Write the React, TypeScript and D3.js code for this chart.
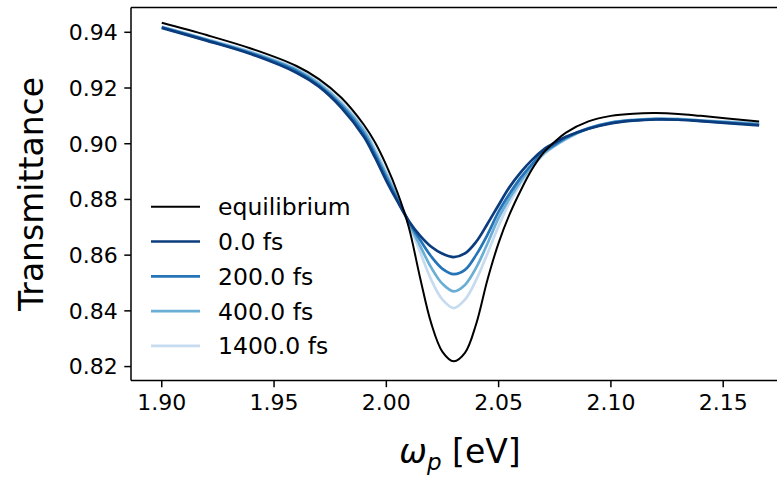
import React from "react";
import * as d3 from "d3";

// Photon energy grid (eV)
const energies = [
  1.90, 1.92, 1.94, 1.96, 1.97, 1.98, 1.99, 1.995, 2.00, 2.005, 2.01, 2.015, 2.02, 2.025,
  2.03, 2.035, 2.04, 2.045, 2.05, 2.055, 2.06, 2.065, 2.07, 2.075, 2.08, 2.09, 2.10,
  2.11, 2.12, 2.13, 2.14, 2.166,
];

const equilibrium = [
  0.9434, 0.9390, 0.9341, 0.9279, 0.9232, 0.9165, 0.9068, 0.9004, 0.8922, 0.8824, 0.8700,
  0.8520, 0.8355, 0.8253, 0.8219, 0.8249, 0.8353, 0.8511, 0.8644, 0.8749, 0.8835, 0.8910,
  0.8968, 0.9007, 0.9040, 0.9080, 0.9100, 0.9108, 0.9110, 0.9107, 0.9100, 0.9080,
];

const t0fs = [
  0.9416, 0.9370, 0.9321, 0.9255, 0.9205, 0.9129, 0.9025, 0.8950, 0.8867, 0.8792, 0.8723,
  0.8670, 0.8630, 0.8605, 0.8593, 0.8606, 0.8648, 0.8712, 0.8780, 0.8846, 0.8899, 0.8943,
  0.8979, 0.9004, 0.9025, 0.9054, 0.9073, 0.9083, 0.9087, 0.9086, 0.9081, 0.9066,
];

const t200fs = [
  0.9418, 0.9372, 0.9324, 0.9261, 0.9210, 0.9137, 0.9036, 0.8961, 0.8878, 0.8799, 0.8720,
  0.8655, 0.8595, 0.8551, 0.8532, 0.8547, 0.8601, 0.8673, 0.8756, 0.8822, 0.8880, 0.8928,
  0.8971, 0.8996, 0.9022, 0.9055, 0.9075, 0.9084, 0.9088, 0.9087, 0.9082, 0.9068,
];

const t400fs = [
  0.9419, 0.9374, 0.9327, 0.9266, 0.9216, 0.9144, 0.9047, 0.8971, 0.8889, 0.8806, 0.8716,
  0.8634, 0.8555, 0.8497, 0.8470, 0.8493, 0.8555, 0.8641, 0.8734, 0.8806, 0.8867, 0.8921,
  0.8964, 0.8993, 0.9018, 0.9055, 0.9076, 0.9085, 0.9089, 0.9088, 0.9083, 0.9071,
];

const t1400fs = [
  0.9421, 0.9376, 0.9330, 0.9270, 0.9221, 0.9151, 0.9054, 0.8982, 0.8899, 0.8813, 0.8713,
  0.8612, 0.8511, 0.8440, 0.8410, 0.8440, 0.8511, 0.8605, 0.8705, 0.8790, 0.8858, 0.8914,
  0.8961, 0.8991, 0.9016, 0.9056, 0.9077, 0.9086, 0.9090, 0.9089, 0.9084, 0.9074,
];

const seriesLabels = ["equilibrium", "0.0 fs", "200.0 fs", "400.0 fs", "1400.0 fs"];
const seriesValues = [equilibrium, t0fs, t200fs, t400fs, t1400fs];
const seriesColors = ["#000000", "#0b3c7d", "#2474b7", "#6aaed6", "#c6dbef"];
const seriesWidths = [2, 2.7, 2.7, 2.7, 2.7];

const xTicks = [1.9, 1.95, 2.0, 2.05, 2.1, 2.15];
const yTicks = [0.82, 0.84, 0.86, 0.88, 0.9, 0.92, 0.94];

const W = 777;
const H = 477;
const FONT = "DejaVu Sans, sans-serif";

export default function App() {
  const left = 131;
  const right = 789;
  const top = 7.5;
  const bottom = 380.5;

  const x = d3.scaleLinear().domain([1.8863, 2.1793]).range([left, right]);
  const y = d3.scaleLinear().domain([0.815, 0.9489]).range([bottom, top]);

  const line = d3
    .line<number>()
    .x((_, i) => x(energies[i]))
    .y((d) => y(d))
    .curve(d3.curveCatmullRom.alpha(0.5));

  const tickLen = 6.7;
  const tickFont = 22;
  const legendFont = 23.5;
  const labelFont = 33;

  // draw the lightest series first so darker ones sit on top
  const order = [4, 3, 2, 1, 0];

  return (
    <svg
      width={W}
      height={H}
      style={{ position: "absolute", left: 0, top: 0, background: "#fff" }}
      fontFamily={FONT}
    >
      <defs>
        <clipPath id="plotArea">
          <rect x={left} y={top} width={right - left} height={bottom - top} />
        </clipPath>
      </defs>

      <g clipPath="url(#plotArea)">
        {order.map((k) => (
          <path
            key={k}
            d={line(seriesValues[k]) ?? ""}
            fill="none"
            stroke={seriesColors[k]}
            strokeWidth={seriesWidths[k]}
            strokeLinejoin="round"
            strokeLinecap="butt"
          />
        ))}
      </g>

      {/* spines */}
      <g stroke="#000" strokeWidth={1.5} fill="none">
        <line x1={left} x2={left} y1={top} y2={bottom} />
        <line x1={left} x2={right} y1={bottom} y2={bottom} />
        <line x1={left} x2={right} y1={top} y2={top} />
        <line x1={right} x2={right} y1={top} y2={bottom} />
      </g>

      {/* x axis ticks */}
      {xTicks.map((t) => (
        <g key={t}>
          <line x1={x(t)} x2={x(t)} y1={bottom} y2={bottom + tickLen} stroke="#000" strokeWidth={1.5} />
          <text
            x={x(t)}
            y={bottom + tickLen + 6.5 + tickFont * 0.76}
            textAnchor="middle"
            fontSize={tickFont}
            fill="#000"
          >
            {d3.format(".2f")(t)}
          </text>
        </g>
      ))}

      {/* y axis ticks */}
      {yTicks.map((t) => (
        <g key={t}>
          <line x1={left - tickLen} x2={left} y1={y(t)} y2={y(t)} stroke="#000" strokeWidth={1.5} />
          <text
            x={left - tickLen - 6.5}
            y={y(t)}
            dy="0.36em"
            textAnchor="end"
            fontSize={tickFont}
            fill="#000"
          >
            {d3.format(".2f")(t)}
          </text>
        </g>
      ))}

      {/* axis labels */}
      <text x={(left + right) / 2} y={463} textAnchor="middle" fontSize={labelFont} fill="#000">
        <tspan fontStyle="italic">ω</tspan>
        <tspan fontStyle="italic" fontSize={23} dy={7}>p</tspan>
        <tspan dy={-7}> [eV]</tspan>
      </text>
      <text
        transform={`translate(43, ${(top + bottom) / 2}) rotate(-90)`}
        textAnchor="middle"
        fontSize={labelFont}
        fill="#000"
      >
        Transmittance
      </text>

      {/* legend */}
      <g>
        {seriesLabels.map((lab, i) => {
          const cy = 206.7 + i * 34.8;
          return (
            <g key={lab}>
              <line
                x1={151}
                x2={200}
                y1={cy}
                y2={cy}
                stroke={seriesColors[i]}
                strokeWidth={seriesWidths[i]}
              />
              <text x={218} y={cy} dy="0.36em" fontSize={legendFont} fill="#000">
                {lab}
              </text>
            </g>
          );
        })}
      </g>
    </svg>
  );
}
